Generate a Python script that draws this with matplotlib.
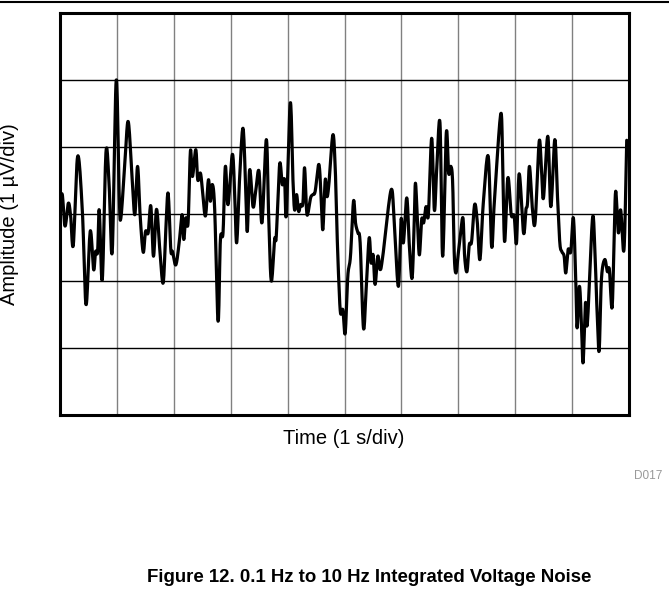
import numpy as np
import matplotlib.pyplot as plt
from matplotlib.lines import Line2D

plt.rcParams['font.family'] = ['Liberation Sans', 'DejaVu Sans']

# Time in s, amplitude in uV (0 = center gridline)
t = [0.0, 0.04, 0.088, 0.146, 0.187, 0.234, 0.31, 0.392, 0.456, 0.515, 0.544, 0.591, 0.626, 0.661,
     0.69, 0.743, 0.807, 0.86, 0.918, 0.988, 1.041, 1.07, 1.14, 1.199, 1.269, 1.316, 1.363, 1.409,
     1.462, 1.503, 1.55, 1.596, 1.643, 1.696, 1.754, 1.813, 1.86, 1.9, 1.947,
     1.977, 2.035, 2.094, 2.146, 2.175, 2.21, 2.251, 2.292, 2.328, 2.386, 2.421, 2.468, 2.503,
     2.556, 2.608, 2.643, 2.678, 2.719, 2.778, 2.819, 2.865, 2.906, 2.953, 3.029, 3.07, 3.105,
     3.158, 3.216, 3.263, 3.292, 3.333, 3.392, 3.439, 3.497, 3.55, 3.626, 3.667, 3.713, 3.772,
     3.801, 3.86, 3.906, 3.947, 3.977,
     4.047, 4.094, 4.123, 4.158, 4.193, 4.228, 4.269, 4.298, 4.333, 4.357, 4.404, 4.444, 4.485,
     4.55, 4.591, 4.62, 4.661, 4.69, 4.725, 4.795, 4.836, 4.871, 4.901, 4.93, 4.971, 5.012, 5.058,
     5.105, 5.158, 5.193, 5.234, 5.275, 5.333, 5.38, 5.433, 5.468, 5.503, 5.538, 5.585, 5.626,
     5.673, 5.819, 5.877, 5.947, 5.994,
     6.035, 6.094, 6.14, 6.187, 6.222, 6.246, 6.281, 6.316, 6.357, 6.392, 6.433, 6.474, 6.532,
     6.579, 6.62, 6.678, 6.725, 6.789, 6.83, 6.871, 6.901, 6.93, 6.959, 6.994, 7.035, 7.082,
     7.111, 7.152, 7.193, 7.234, 7.287, 7.333, 7.38, 7.439, 7.526, 7.585, 7.632, 7.743, 7.778,
     7.813, 7.871, 7.93, 7.982, 8.023, 8.07,
     8.146, 8.187, 8.216, 8.251, 8.304, 8.351, 8.421, 8.462, 8.497, 8.573, 8.626, 8.696, 8.743,
     8.784, 8.819, 8.86, 8.889, 8.93, 8.977, 9.023, 9.064, 9.088, 9.129, 9.164, 9.193, 9.234,
     9.269, 9.357, 9.398, 9.433, 9.474, 9.515, 9.573, 9.62, 9.655, 9.702, 9.737, 9.766, 9.813,
     9.854, 9.912, 9.96]
amp = [0.16, 0.29, -0.18, 0.16, -0.03, -0.46, 0.86, 0.06, -1.35, -0.43, -0.28, -0.83, -0.56, -0.56,
       0.06, -0.98, 0.91, 0.51, -0.56, 2.0, 0.26, -0.06, 0.76, 1.38, 0.51, -0.01, 0.71, -0.03,
       -0.57, -0.26, -0.28, 0.12, -0.63, 0.07, -0.53, -1.03, -0.23, 0.31, -0.53,
       -0.56, -0.76, -0.43, -0.01, -0.38, -0.06, -0.13, 0.94, 0.56, 0.96, 0.51, 0.61, 0.36,
       -0.03, 0.51, 0.19, 0.44, 0.06, -1.6, -0.38, -0.28, 0.71, 0.14, 0.89, 0.31, -0.43,
       0.56, 1.28, 0.41, -0.26, 0.66, 0.11, 0.34, 0.64, -0.13, 1.11, -0.03, -1.0, -0.38,
       -0.33, 0.74, 0.44, 0.51, -0.01,
       1.66, 0.51, 0.06, 0.29, 0.04, 0.14, 0.16, 0.69, 0.06, 0.01, 0.24, 0.29, 0.34,
       0.74, 0.21, -0.23, 0.51, 0.26, 0.44, 1.18, 0.71, -0.33, -1.03, -1.48, -1.43, -1.78, -0.93,
       -0.63, 0.19, -0.13, -0.28, -0.43, -1.7, -1.13, -0.36, -0.73, -0.61, -1.05, -0.63, -0.83,
       -0.63, 0.36, -0.18, -1.08, -0.08,
       -0.43, 0.24, -0.48, -0.96, -0.23, 0.46, -0.08, -0.61, -0.08, -0.13, 0.11, -0.01, 1.13,
       0.06, 0.66, 1.36, -0.63, 1.21, 0.61, 0.71, 0.46, -0.63, -0.88, -0.63, -0.33, -0.06,
       -0.63, -0.86, -0.46, -0.41, 0.14, -0.11, -0.68, 0.16, 0.86, -0.48, 0.16, 1.48, 0.91,
       -0.41, 0.54, -0.01, -0.03, -0.43, 0.6,
       -0.28, 0.06, 0.16, 0.71, 0.06, -0.11, 1.08, 0.66, 0.24, 1.16, 0.11, 1.11, 0.26,
       -0.43, -0.56, -0.63, -0.88, -0.53, -0.56, -0.06, -0.98, -1.7, -1.08, -1.63, -2.22, -1.33,
       -1.63, -0.08, -0.48, -1.33, -2.05, -0.98, -0.68, -0.86, -0.83, -1.4, -0.43, 0.34, -0.28,
       0.06, -0.53, 1.1]


# Catmull-Rom curve through the traced points, for the rounded scope look
def catmull_rom(x, y, n=12):
    x = np.asarray(x, float)
    y = np.asarray(y, float)
    px = np.concatenate([[2 * x[0] - x[1]], x, [2 * x[-1] - x[-2]]])
    py = np.concatenate([[2 * y[0] - y[1]], y, [2 * y[-1] - y[-2]]])
    s = np.linspace(0, 1, n, endpoint=False)[:, None]
    out_x, out_y = [], []
    for p in (px, py):
        p0, p1, p2, p3 = p[:-3], p[1:-2], p[2:-1], p[3:]
        c = 0.5 * ((2 * p1) + (-p0 + p2) * s + (2 * p0 - 5 * p1 + 4 * p2 - p3) * s ** 2
                   + (-p0 + 3 * p1 - 3 * p2 + p3) * s ** 3)
        (out_x if p is px else out_y).append(np.concatenate([c.T.ravel(), [p[-2]]]))
    return out_x[0], out_y[0]


W, H = 669, 590
fig = plt.figure(figsize=(W / 100, H / 100), dpi=100)
ax = fig.add_axes([60 / W, 1 - 415 / H, 569 / W, 402 / H])

xs, ys = catmull_rom(t, amp)
ax.plot(xs, ys, color='black', lw=2.3, solid_joinstyle='round', solid_capstyle='round', zorder=3)

ax.set_xlim(0, 10)
ax.set_ylim(-3, 3)
for xv in range(1, 10):
    ax.axvline(xv, color='#808080', lw=1.0, zorder=1)
for yv in range(-2, 3):
    ax.axhline(yv, color='black', lw=1.0, zorder=1)
ax.set_xticks([])
ax.set_yticks([])
for s in ax.spines.values():
    s.set_linewidth(2.2)
    s.set_zorder(4)

fig.text(10 / W, 1 - 214 / H, 'Amplitude (1 \u00b5V/div)', rotation=90, ha='center', va='center', fontsize=14.5)
fig.text(344 / W, 1 - 439 / H, 'Time (1 s/div)', ha='center', va='center', fontsize=14.5)
fig.text(662 / W, 1 - 476 / H, 'D017', ha='right', va='center', fontsize=8.5, color='#999999')
fig.text(369 / W, 1 - 578 / H, 'Figure 12. 0.1 Hz to 10 Hz Integrated Voltage Noise',
         ha='center', va='center', fontsize=13.4, fontweight='bold')
fig.add_artist(Line2D([0, 1], [1 - 1.5 / H, 1 - 1.5 / H], color='black', lw=1.5, transform=fig.transFigure))

fig.savefig('out.png', dpi=100)
